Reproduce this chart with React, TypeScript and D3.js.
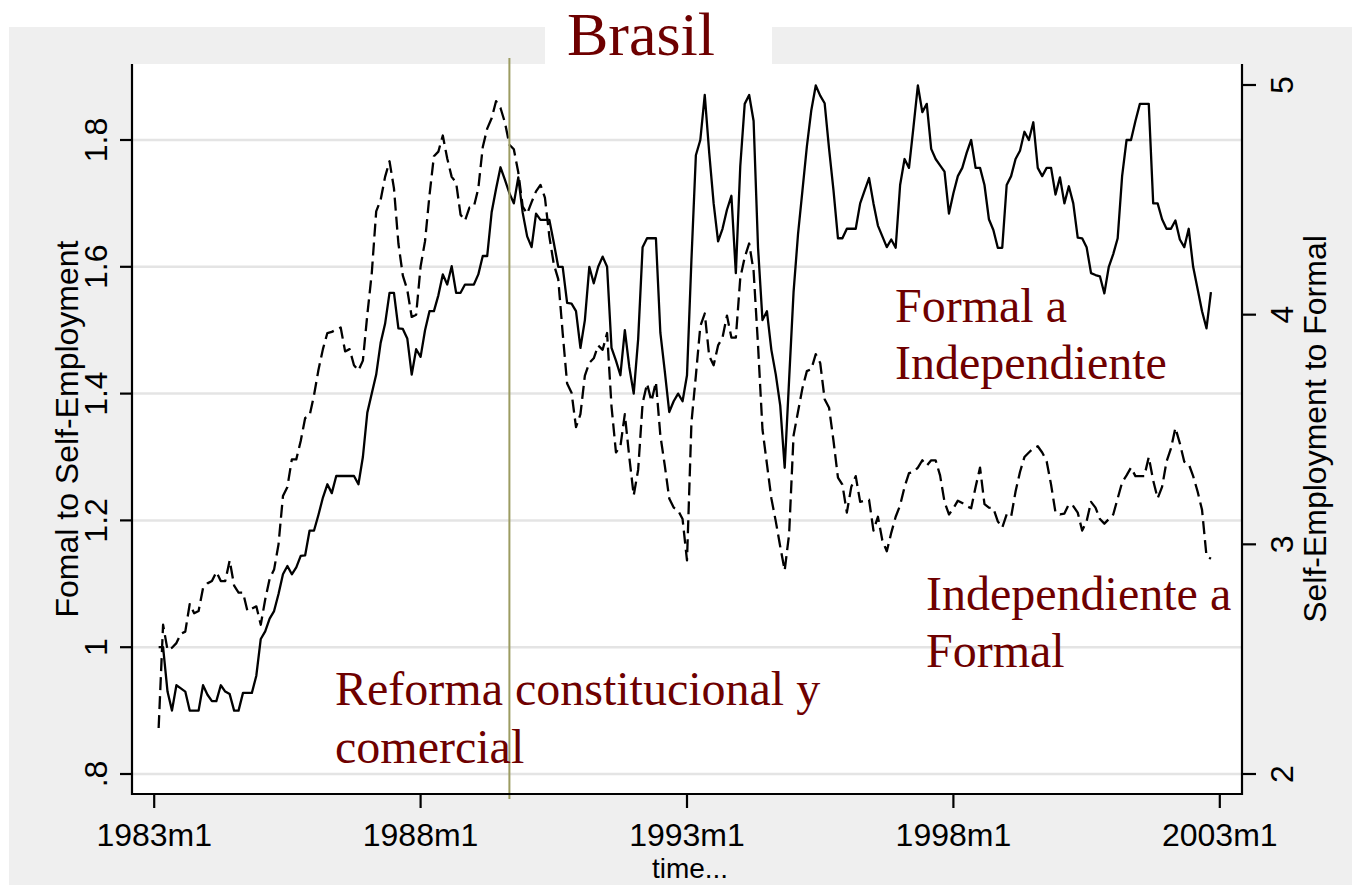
import React from 'react';
import * as d3 from 'd3';

// months counted from 1983m1; first observation is 1983m2
const firstMonth = 1;

// Formal to Self-Employment (left axis, solid)
const formalToSelf = [
  1.00, 1.00, 0.93, 0.90, 0.94, 0.935, 0.93, 0.90, 0.90, 0.90,
  0.94, 0.925, 0.915, 0.915, 0.94, 0.93, 0.926, 0.90, 0.90, 0.928,
  0.928, 0.928, 0.955, 1.013, 1.025, 1.045, 1.057, 1.084, 1.115, 1.128,
  1.115, 1.126, 1.144, 1.145, 1.184, 1.184, 1.209, 1.236, 1.257, 1.243,
  1.27, 1.27, 1.27, 1.27, 1.27, 1.257, 1.30, 1.37, 1.40, 1.43,
  1.48, 1.51, 1.559, 1.559, 1.503, 1.502, 1.487, 1.43, 1.47, 1.458,
  1.50, 1.53, 1.53, 1.555, 1.588, 1.572, 1.601, 1.559, 1.559, 1.572,
  1.572, 1.572, 1.588, 1.617, 1.617, 1.686, 1.723, 1.757, 1.737, 1.716,
  1.70, 1.741, 1.685, 1.648, 1.631, 1.684, 1.674, 1.674, 1.674, 1.638,
  1.60, 1.60, 1.543, 1.542, 1.53, 1.472, 1.516, 1.60, 1.574, 1.60,
  1.616, 1.60, 1.472, 1.452, 1.429, 1.50, 1.442, 1.40, 1.486, 1.631,
  1.645, 1.645, 1.645, 1.496, 1.435, 1.371, 1.388, 1.40, 1.388, 1.429,
  1.611, 1.776, 1.80, 1.871, 1.78, 1.70, 1.64, 1.66, 1.69, 1.712,
  1.59, 1.759, 1.857, 1.871, 1.83, 1.63, 1.516, 1.53, 1.469, 1.43,
  1.381, 1.283, 1.422, 1.56, 1.651, 1.72, 1.79, 1.847, 1.886, 1.87,
  1.858, 1.786, 1.72, 1.645, 1.645, 1.66, 1.66, 1.66, 1.70, 1.72,
  1.74, 1.70, 1.665, 1.648, 1.631, 1.643, 1.63, 1.729, 1.77, 1.756,
  1.82, 1.886, 1.844, 1.857, 1.786, 1.77, 1.76, 1.75, 1.684, 1.716,
  1.743, 1.756, 1.78, 1.80, 1.756, 1.756, 1.729, 1.675, 1.658, 1.63,
  1.63, 1.729, 1.743, 1.77, 1.783, 1.813, 1.80, 1.828, 1.756, 1.743,
  1.756, 1.756, 1.714, 1.741, 1.70, 1.727, 1.70, 1.646, 1.645, 1.631,
  1.59, 1.587, 1.585, 1.558, 1.60, 1.62, 1.645, 1.743, 1.80, 1.80,
  1.83, 1.857, 1.857, 1.857, 1.70, 1.70, 1.675, 1.66, 1.66, 1.673,
  1.643, 1.631, 1.66, 1.60, 1.565, 1.53, 1.503, 1.56
];

// Self-Employment to Formal (right axis, dashed)
const selfToFormal = [
  2.20, 2.65, 2.54, 2.55, 2.57, 2.61, 2.62, 2.74, 2.70, 2.71,
  2.81, 2.83, 2.84, 2.88, 2.84, 2.84, 2.93, 2.82, 2.79, 2.79,
  2.71, 2.72, 2.73, 2.65, 2.76, 2.85, 2.89, 3.00, 3.21, 3.25,
  3.37, 3.37, 3.45, 3.55, 3.56, 3.65, 3.76, 3.85, 3.92, 3.925,
  3.935, 3.944, 3.84, 3.85, 3.78, 3.757, 3.80, 4.00, 4.18, 4.45,
  4.50, 4.60, 4.668, 4.55, 4.31, 4.17, 4.108, 3.99, 4.00, 4.21,
  4.32, 4.52, 4.69, 4.71, 4.78, 4.68, 4.60, 4.575, 4.435, 4.41,
  4.466, 4.47, 4.55, 4.73, 4.81, 4.855, 4.93, 4.90, 4.836, 4.74,
  4.72, 4.62, 4.47, 4.44, 4.49, 4.537, 4.565, 4.51, 4.34, 4.22,
  4.155, 3.92, 3.70, 3.66, 3.51, 3.567, 3.735, 3.79, 3.81, 3.866,
  3.847, 3.92, 3.60, 3.40, 3.427, 3.567, 3.38, 3.213, 3.325, 3.614,
  3.70, 3.623, 3.707, 3.474, 3.343, 3.20, 3.16, 3.147, 3.11, 2.93,
  3.53, 3.735, 3.95, 4.005, 3.82, 3.78, 3.866, 3.90, 3.996, 3.90,
  3.90, 4.16, 4.25, 4.31, 4.19, 3.866, 3.50, 3.35, 3.20, 3.10,
  2.99, 2.886, 3.045, 3.474, 3.577, 3.68, 3.754, 3.763, 3.828, 3.79,
  3.632, 3.595, 3.45, 3.29, 3.26, 3.138, 3.25, 3.297, 3.185, 3.19,
  3.194, 3.06, 3.12, 3.017, 2.97, 3.05, 3.12, 3.17, 3.25, 3.31,
  3.315, 3.334, 3.366, 3.343, 3.366, 3.366, 3.30, 3.185, 3.13, 3.157,
  3.19, 3.18, 3.166, 3.157, 3.25, 3.334, 3.175, 3.16, 3.157, 3.10,
  3.073, 3.13, 3.12, 3.23, 3.315, 3.38, 3.40, 3.418, 3.427, 3.40,
  3.362, 3.26, 3.138, 3.13, 3.134, 3.175, 3.166, 3.138, 3.06, 3.10,
  3.185, 3.16, 3.11, 3.09, 3.11, 3.13, 3.20, 3.27, 3.30, 3.334,
  3.297, 3.297, 3.297, 3.38, 3.278, 3.20, 3.25, 3.36, 3.418, 3.507,
  3.44, 3.36, 3.35, 3.297, 3.23, 3.15, 2.95, 2.937
];

const xTickMonths = [0, 60, 120, 180, 240];
const xTickLabels = ['1983m1', '1988m1', '1993m1', '1998m1', '2003m1'];
const leftTicks = [0.8, 1, 1.2, 1.4, 1.6, 1.8];
const leftTickLabels = ['.8', '1', '1.2', '1.4', '1.6', '1.8'];
const rightTicks = [2, 3, 4, 5];
const reformMonth = 80; // 1989m9

const sans = '"Liberation Sans", Arial, sans-serif';
const serif = '"Liberation Serif", "Times New Roman", serif';
const maroon = '#6e0000';

export default function App() {
    const width = 1354;
    const height = 885;
    const plot = { left: 132, right: 1242, top: 64, bottom: 794 };

    const x = d3.scaleLinear().domain([-5, 245]).range([plot.left, plot.right]);
    const yLeft = d3.scaleLinear().domain([0.8, 1.8]).range([774, 140]);
    const yRight = d3.scaleLinear().domain([2, 5]).range([774, 85]);

    const solidLine = d3.line<number>()
        .x((d, i) => x(firstMonth + i))
        .y(d => yLeft(d));
    const dashedLine = d3.line<number>()
        .x((d, i) => x(firstMonth + i))
        .y(d => yRight(d));

    return (
        <svg width={width} height={height} style={{ position: 'absolute', left: 0, top: 0 }}>
            <rect x={0} y={0} width={width} height={height} fill="#ffffff" />
            {/* graph region */}
            <rect x={9} y={27} width={1343} height={858} fill="#efefef" />
            {/* title box */}
            <rect x={545} y={27} width={227} height={37} fill="#ffffff" />
            <text x={641} y={55} textAnchor="middle" fontFamily={serif} fontSize="62px" fill={maroon}>Brasil</text>

            {/* plot region */}
            <rect x={plot.left} y={plot.top} width={plot.right - plot.left} height={plot.bottom - plot.top} fill="#ffffff" />

            {/* grid */}
            {leftTicks.map(t => (
                <line key={t} x1={plot.left} x2={plot.right} y1={yLeft(t)} y2={yLeft(t)} stroke="#e4e4e4" strokeWidth={2.5} />
            ))}

            {/* series */}
            <path d={dashedLine(selfToFormal) || ''} fill="none" stroke="#000" strokeWidth={2.3} strokeDasharray="13 6" strokeLinejoin="round" />
            <path d={solidLine(formalToSelf) || ''} fill="none" stroke="#000" strokeWidth={2.3} strokeLinejoin="round" />

            {/* reform line */}
            <line x1={x(reformMonth)} x2={x(reformMonth)} y1={58} y2={799} stroke="#9c9c62" strokeWidth={2} />

            {/* annotations */}
            <g fontFamily={serif} fontSize="48px" fill={maroon}>
                <text x={895} y={322}>Formal a</text>
                <text x={895} y={379}>Independiente</text>
                <text x={926} y={610}>Independiente a</text>
                <text x={926} y={667}>Formal</text>
                <text x={335} y={705}>Reforma constitucional y</text>
                <text x={335} y={763}>comercial</text>
            </g>

            {/* axes */}
            <g stroke="#000" strokeWidth={2.2}>
                <line x1={plot.left} x2={plot.left} y1={plot.top} y2={plot.bottom + 1} />
                <line x1={plot.right} x2={plot.right} y1={plot.top} y2={plot.bottom + 1} />
                <line x1={plot.left} x2={plot.right} y1={plot.bottom} y2={plot.bottom} />
                {xTickMonths.map(m => (
                    <line key={m} x1={x(m)} x2={x(m)} y1={plot.bottom} y2={plot.bottom + 14} />
                ))}
                {leftTicks.map(t => (
                    <line key={t} x1={plot.left - 12} x2={plot.left} y1={yLeft(t)} y2={yLeft(t)} />
                ))}
                {rightTicks.map(t => (
                    <line key={t} x1={plot.right} x2={plot.right + 14} y1={yRight(t)} y2={yRight(t)} />
                ))}
            </g>

            <g fontFamily={sans} fontSize="32px" fill="#000">
                {xTickMonths.map((m, i) => (
                    <text key={m} x={x(m)} y={846} textAnchor="middle">{xTickLabels[i]}</text>
                ))}
                {leftTicks.map((t, i) => (
                    <text key={t} transform={`translate(107,${yLeft(t)}) rotate(-90)`} textAnchor="middle">{leftTickLabels[i]}</text>
                ))}
                {rightTicks.map(t => (
                    <text key={t} transform={`translate(1293,${yRight(t)}) rotate(-90)`} textAnchor="middle">{t}</text>
                ))}
                <text transform={`translate(78,${(plot.top + plot.bottom) / 2}) rotate(-90)`} textAnchor="middle">Fomal to Self-Employment</text>
                <text transform={`translate(1326,${(plot.top + plot.bottom) / 2}) rotate(-90)`} textAnchor="middle">Self-Employment to Formal</text>
                <text x={690} y={878} textAnchor="middle" fontSize="28px">time...</text>
            </g>
        </svg>
    );
}
